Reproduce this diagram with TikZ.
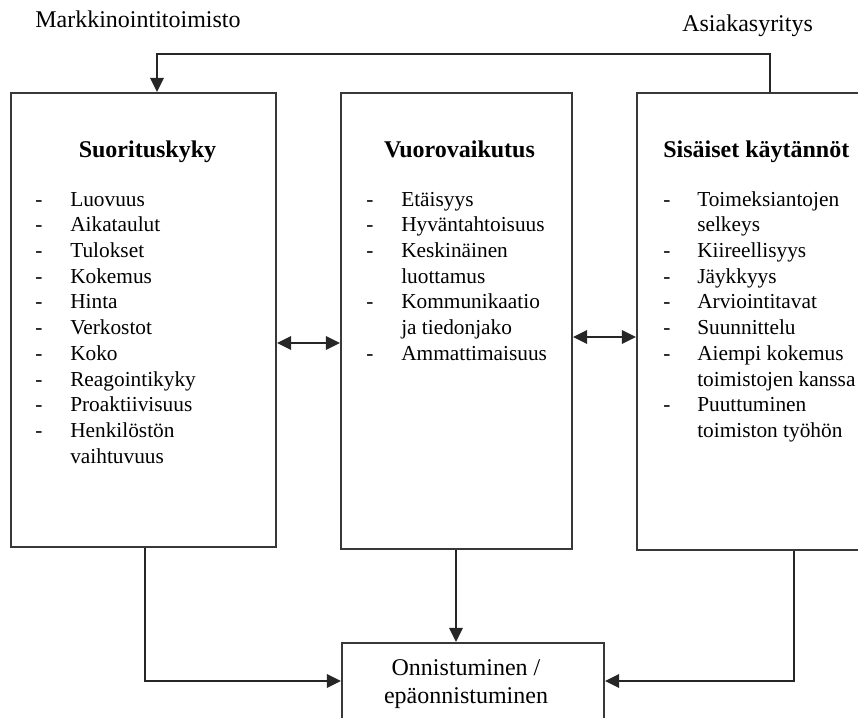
\documentclass[tikz,border=0pt]{standalone}
\usepackage{fontspec}
\setmainfont{Liberation Serif}
\usetikzlibrary{arrows.meta,fit}
\begin{document}
\begin{tikzpicture}[x=0.75pt,y=-0.75pt,
  box/.style={draw=black!78, line width=1.6pt, inner sep=0pt},
  conn/.style={draw=black!85, line width=1.5pt},
  tip/.tip={Triangle[length=10.5pt,width=10pt]},
  arr/.style={conn, -tip},
  biarr/.style={conn, tip-tip},
  head/.style={font=\fontsize{18}{21}\selectfont\bfseries, inner sep=0pt},
  items/.style={font=\fontsize{16}{19.3}\selectfont, anchor=base west, inner sep=0pt},
  toplabel/.style={font=\fontsize{18}{21}\selectfont, anchor=base west, inner sep=0pt}]
\useasboundingbox (0,0) rectangle (858,718);

% Actor labels
\node[toplabel] (agency) at (35,27) {Markkinointitoimisto};
\node[toplabel] (client) at (682,31) {Asiakasyritys};

% Three factor boxes
\node[box, fit={(11,93) (276,547)}] (perf) {};
\node[box, fit={(341,93) (572,549)}] (inter) {};
\node[box, fit={(637,93) (880,550)}] (prac) {};

% Outcome box
\node[box, fit={(342,643) (604,740)}] (res) {};

% Box headings
\node[head, anchor=base] (perfhead) at (147.5,157) {Suorituskyky};
\node[head, anchor=base] (interhead) at (459.5,157) {Vuorovaikutus};
\node[head, anchor=base west] (prachead) at (663,157) {Sisäiset käytännöt};

% Item lists
\node[items] (perfitems) at (35,206) {\begin{tabular}[t]{@{}p{26.25pt}@{}l@{}}
- & Luovuus\\
- & Aikataulut\\
- & Tulokset\\
- & Kokemus\\
- & Hinta\\
- & Verkostot\\
- & Koko\\
- & Reagointikyky\\
- & Proaktiivisuus\\
- & Henkilöstön\\
  & vaihtuvuus
\end{tabular}};

\node[items] (interitems) at (366,206) {\begin{tabular}[t]{@{}p{26.25pt}@{}l@{}}
- & Etäisyys\\
- & Hyväntahtoisuus\\
- & Keskinäinen\\
  & luottamus\\
- & Kommunikaatio\\
  & ja tiedonjako\\
- & Ammattimaisuus
\end{tabular}};

\node[items] (pracitems) at (663,206) {\begin{tabular}[t]{@{}p{25.5pt}@{}l@{}}
- & Toimeksiantojen\\
  & selkeys\\
- & Kiireellisyys\\
- & Jäykkyys\\
- & Arviointitavat\\
- & Suunnittelu\\
- & Aiempi kokemus\\
  & toimistojen kanssa\\
- & Puuttuminen\\
  & toimiston työhön
\end{tabular}};

% Outcome text
\node[font=\fontsize{18}{21}\selectfont, anchor=base, inner sep=0pt] (restext) at (466,675)
  {\begin{tabular}[t]{@{}c@{}}Onnistuminen /\\ epäonnistuminen\end{tabular}};

% Connectors
\coordinate (topR) at (770,54);
\coordinate (topL) at (157,54);
\draw[arr] (prac.north -| topR) -- (topR) -- (topL) -- (perf.north -| topL);

\coordinate (m1) at (300,343);
\draw[biarr] (perf.east |- m1) -- (inter.west |- m1);
\coordinate (m2) at (600,337);
\draw[biarr] (inter.east |- m2) -- (prac.west |- m2);

\coordinate (bL) at (145,681);
\coordinate (bR) at (794,681);
\coordinate (bM) at (456,600);
\draw[arr] (perf.south -| bL) |- (res.west |- bL);
\draw[arr] (prac.south -| bR) |- (res.east |- bR);
\draw[arr] (inter.south -| bM) -- (res.north -| bM);
\end{tikzpicture}
\end{document}
